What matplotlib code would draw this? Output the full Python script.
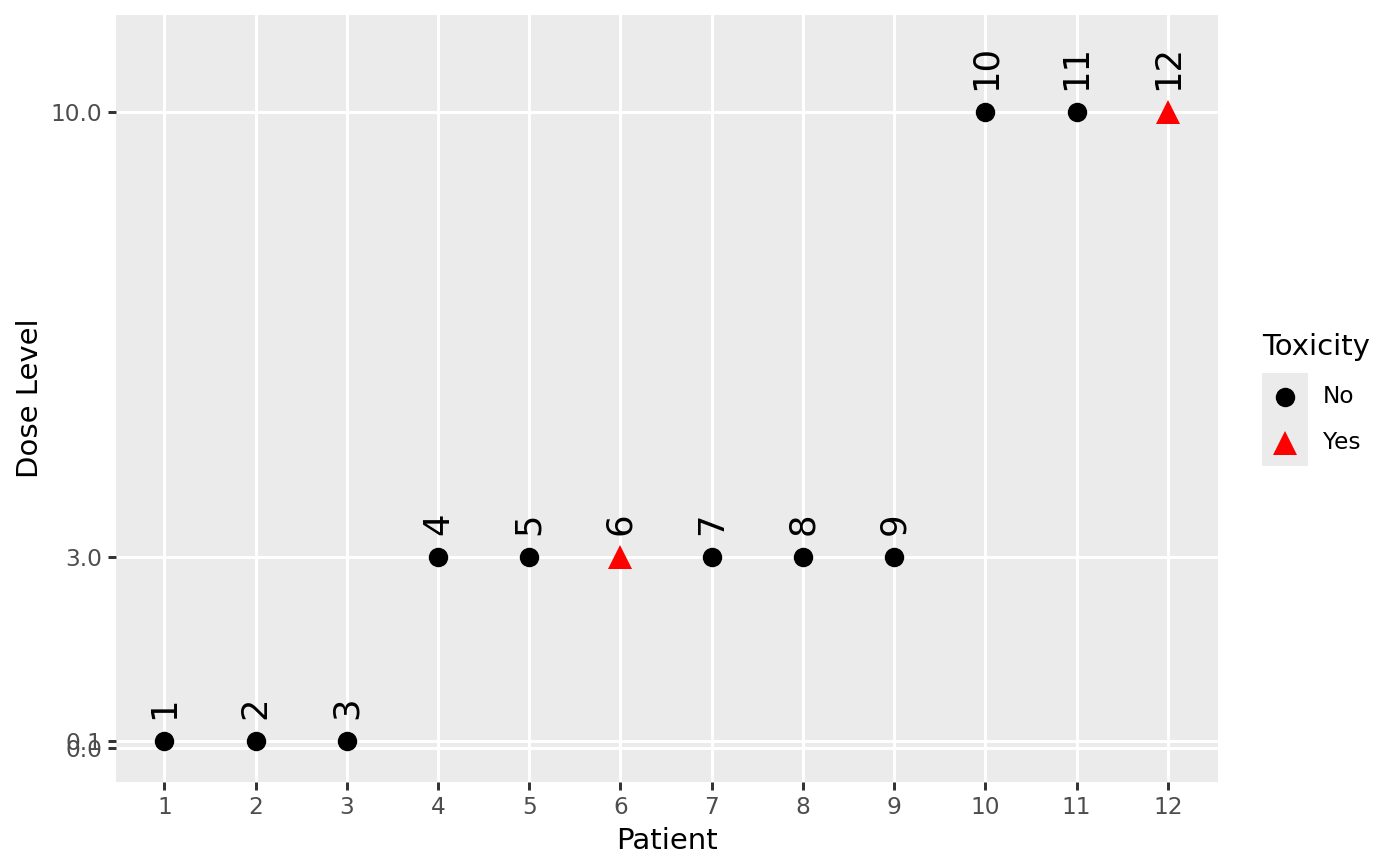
import matplotlib
matplotlib.use("Agg")
import matplotlib.pyplot as plt
from matplotlib.lines import Line2D
from matplotlib.patches import Rectangle

patients = list(range(1, 13))
dose = [0.1, 0.1, 0.1, 3, 3, 3, 3, 3, 3, 10, 10, 10]
toxicity = ["No", "No", "No", "No", "No", "Yes", "No", "No", "No", "No", "No", "Yes"]
y_ticks = [0.0, 0.1, 3.0, 10.0]
y_ticklabels = ["0.0", "0.1", "3.0", "10.0"]

W, H = 1400, 866
fig = plt.figure(figsize=(7, 4.33), dpi=200)
ax = fig.add_axes([116 / W, 1 - 782 / H, (1218 - 116) / W, (782 - 15) / H])
ax.set_facecolor("#EBEBEB")
for s in ax.spines.values():
    s.set_visible(False)

style = {"No": dict(marker="o", color="black", ms=7),
         "Yes": dict(marker="^", color="red", ms=8.5)}
for p, d, t in zip(patients, dose, toxicity):
    st = style[t]
    ax.plot([p], [d], linestyle="none", marker=st["marker"], color=st["color"],
            markersize=st["ms"], markeredgewidth=0, zorder=3)
    ax.annotate(str(p), (p, d), xytext=(0, 8), textcoords="offset points",
                rotation=90, ha="center", va="bottom", fontsize=12.8, color="black", zorder=4)

ax.set_xlim(0.47, 12.55)
ax.set_ylim(-0.54, 11.53)
ax.set_xticks(patients)
ax.set_xticklabels([str(p) for p in patients])
ax.set_yticks(y_ticks)
ax.set_yticklabels(y_ticklabels)
ax.grid(True, color="white", linewidth=1.07)
ax.set_axisbelow(True)
ax.tick_params(axis="both", colors="#333333", length=2.75, width=1.07,
               labelsize=8.4, labelcolor="#4D4D4D", pad=2.2)
ax.set_xlabel("Patient", fontsize=10.5, color="black", labelpad=3)
ax.set_ylabel("Dose Level", fontsize=10.5, color="black", labelpad=2.5)

# legend
fig.text(1262 / W, 1 - 347 / H, "Toxicity", fontsize=10.5, ha="left", va="center")
fig.patches.append(Rectangle((1262 / W, 1 - 466 / H), 46 / W, 93 / H,
                             transform=fig.transFigure, facecolor="#EBEBEB",
                             edgecolor="none", zorder=1))
for yy, lab in [(397, "No"), (443, "Yes")]:
    st = style[lab]
    fig.add_artist(Line2D([1285 / W], [1 - yy / H], transform=fig.transFigure,
                          linestyle="none", marker=st["marker"], color=st["color"],
                          markersize=st["ms"], markeredgewidth=0, zorder=2))
    fig.text(1323 / W, 1 - yy / H, lab, fontsize=8.4, ha="left", va="center")

fig.savefig("out.png", dpi=200)
